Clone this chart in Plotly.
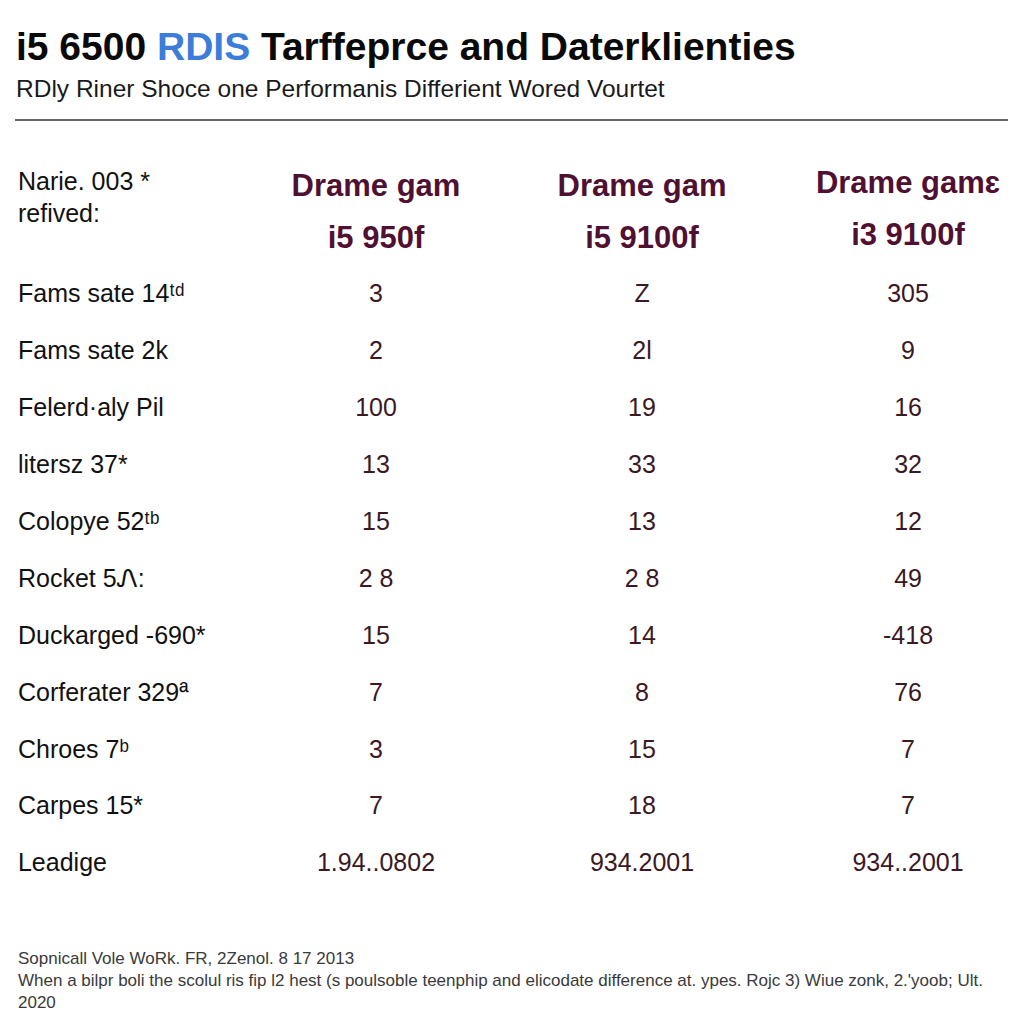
import plotly.graph_objects as go

# ---- data ----
columns_line1 = ["Drame gam", "Drame gam", "Drame gamɛ"]
columns_line2 = ["i5 950f", "i5 9100f", "i3 9100f"]
row_labels = ["Fams sate 14ᵗᵈ", "Fams sate 2k", "Felerd·aly Pil", "litersz 37*",
              "Colopye 52ᵗᵇ", "Rocket 5Ꮑ:", "Duckarged -690*", "Corferater 329ª",
              "Chroes 7ᵇ", "Carpes 15*", "Leadige"]
col_a = ["3", "2", "100", "13", "15", "2 8", "15", "7", "3", "7", "1.94..0802"]
col_b = ["Z", "2l", "19", "33", "13", "2 8", "14", "8", "15", "18", "934.2001"]
col_c = ["305", "9", "16", "32", "12", "49", "-418", "76", "7", "7", "934..2001"]
corner_label = "Narie. 003 *<br>refived:"

title_pre = "i5 6500 "
title_blue = "RDIS"
title_post = " Tarffeprce and Daterklienties"
subtitle = "RDly Riner Shoce one Performanis Differient Wored Vourtet"
footer = ["Sopnicall Vole WoRk. FR, 2Zenol. 8 17 2013",
          "When a bilpr boli the scolul ris fip l2 hest (s poulsoble teenphip and elicodate difference at. ypes. Rojc 3) Wiue zonk, 2.'yoob; Ult.",
          "2020"]

VAL_COLOR = "#3a1824"
HEAD_COLOR = "#501032"
FONT = "Liberation Sans, Arial, sans-serif"
OFF = 8  # page body margin compensation (px)


def px_x(p):
    return (p - OFF) / 1024


def px_y(p):
    return 1 - (p - OFF) / 1024


rows = list(range(len(row_labels)))
LABEL_X = -1.346
fig = go.Figure()

# row labels
fig.add_trace(go.Scatter(
    x=[LABEL_X] * len(rows), y=rows, mode="text", text=row_labels,
    textposition="middle right", textfont=dict(size=25, color="#111111", family=FONT),
    hoverinfo="skip", showlegend=False))

# value columns
for ci, vals in enumerate([col_a, col_b, col_c]):
    fig.add_trace(go.Scatter(
        x=[ci] * len(vals), y=rows, mode="text", text=vals,
        textposition="middle center",
        textfont=dict(size=25, color=VAL_COLOR, family=FONT),
        hoverinfo="skip", showlegend=False))

# headers
fig.add_trace(go.Scatter(
    x=list(range(3)), y=[-1.9, -1.9, -1.95], mode="text", text=columns_line1,
    textposition="middle center",
    textfont=dict(size=31, color=HEAD_COLOR, family=FONT, weight="bold"),
    hoverinfo="skip", showlegend=False))
fig.add_trace(go.Scatter(
    x=list(range(3)), y=[-0.98, -0.98, -1.03], mode="text", text=columns_line2,
    textposition="middle center",
    textfont=dict(size=31, color=HEAD_COLOR, family=FONT, weight="bold"),
    hoverinfo="skip", showlegend=False))
fig.add_trace(go.Scatter(
    x=[LABEL_X], y=[-1.69], mode="text", text=[corner_label],
    textposition="middle right",
    textfont=dict(size=25, color="#111111", family=FONT),
    hoverinfo="skip", showlegend=False))

# title / subtitle / rule / footer
fig.add_annotation(
    xref="paper", yref="paper", x=px_x(14), y=px_y(46), xanchor="left", yanchor="middle",
    text=f"<b>{title_pre}<span style='color:#3b7dd8'>{title_blue}</span>{title_post}</b>",
    showarrow=False, font=dict(size=39, color="#0a0a0a", family=FONT))
fig.add_annotation(
    xref="paper", yref="paper", x=px_x(14), y=px_y(88), xanchor="left", yanchor="middle",
    text=subtitle, showarrow=False, font=dict(size=24.5, color="#1a1a1a", family=FONT))
fig.add_shape(type="line", xref="paper", yref="paper", x0=px_x(15), x1=px_x(1008),
              y0=px_y(120), y1=px_y(120), line=dict(color="#333333", width=1.5))
fig.add_annotation(
    xref="paper", yref="paper", x=px_x(16), y=px_y(980), xanchor="left", yanchor="middle",
    text="<br>".join(footer), align="left", showarrow=False,
    font=dict(size=17, color="#3a3a3a", family=FONT))

fig.update_layout(
    width=1024, height=1024, margin=dict(l=0, r=0, t=0, b=0),
    paper_bgcolor="#ffffff", plot_bgcolor="#ffffff",
    xaxis=dict(range=[-1.3835, 2.466], visible=False, fixedrange=True),
    yaxis=dict(range=[12.934, -5.062], visible=False, fixedrange=True),
)
fig.write_html("out.html")
